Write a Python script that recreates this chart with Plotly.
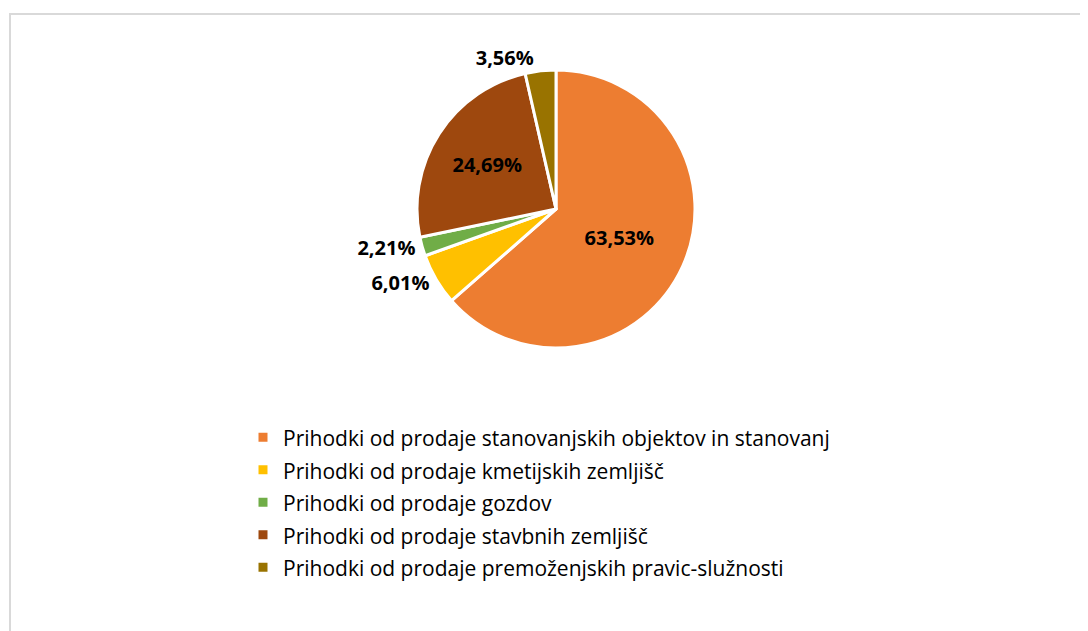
import plotly.graph_objects as go

labels = [
    "Prihodki od prodaje stanovanjskih objektov in stanovanj",
    "Prihodki od prodaje kmetijskih zemljišč",
    "Prihodki od prodaje gozdov",
    "Prihodki od prodaje stavbnih zemljišč",
    "Prihodki od prodaje premoženjskih pravic-služnosti",
]
shares = [63.53, 6.01, 2.21, 24.69, 3.56]
share_text = ["63,53%", "6,01%", "2,21%", "24,69%", "3,56%"]
colors = ["#ED7D31", "#FFC000", "#70AD47", "#9E480E", "#997300"]
positions = ["inside", "outside", "outside", "inside", "outside"]

W, H = 1088, 631
# page body has an 8px margin, so positions are shifted by 8
cx, cy, r = 548, 201, 139

# legend rows are spaced from the legend font size, text drawn a bit smaller
legend_labels = ['<span style="font-size:21px">%s</span>' % s for s in labels]

fig = go.Figure(go.Pie(
    labels=legend_labels,
    values=shares,
    text=share_text,
    textinfo="text",
    textposition=positions,
    sort=False,
    direction="clockwise",
    rotation=0,
    marker=dict(colors=colors, line=dict(color="#FFFFFF", width=3)),
    textfont=dict(family="Open Sans", size=20, color="#000000", weight="bold"),
    insidetextorientation="horizontal",
    domain=dict(x=[(cx - r) / W, (cx + r) / W], y=[1 - (cy + r) / H, 1 - (cy - r) / H]),
    hovertext=labels,
    hoverinfo="text+percent",
))

fig.add_shape(
    type="rect", xref="paper", yref="paper",
    x0=2 / W, x1=1.02, y0=-0.02, y1=1 - 6 / H,
    line=dict(color="#D9D9D9", width=2),
)

fig.update_layout(
    width=W, height=H,
    paper_bgcolor="#FFFFFF",
    margin=dict(t=0, b=0, l=0, r=0, autoexpand=False),
    font=dict(family="Open Sans", color="#000000"),
    showlegend=True,
    legend=dict(
        x=235 / W, y=1 - 408 / H, xanchor="left", yanchor="top",
        font=dict(family="Open Sans", size=22.7, color="#000000"),
        itemwidth=30,
    ),
)

fig.write_html("out.html")
